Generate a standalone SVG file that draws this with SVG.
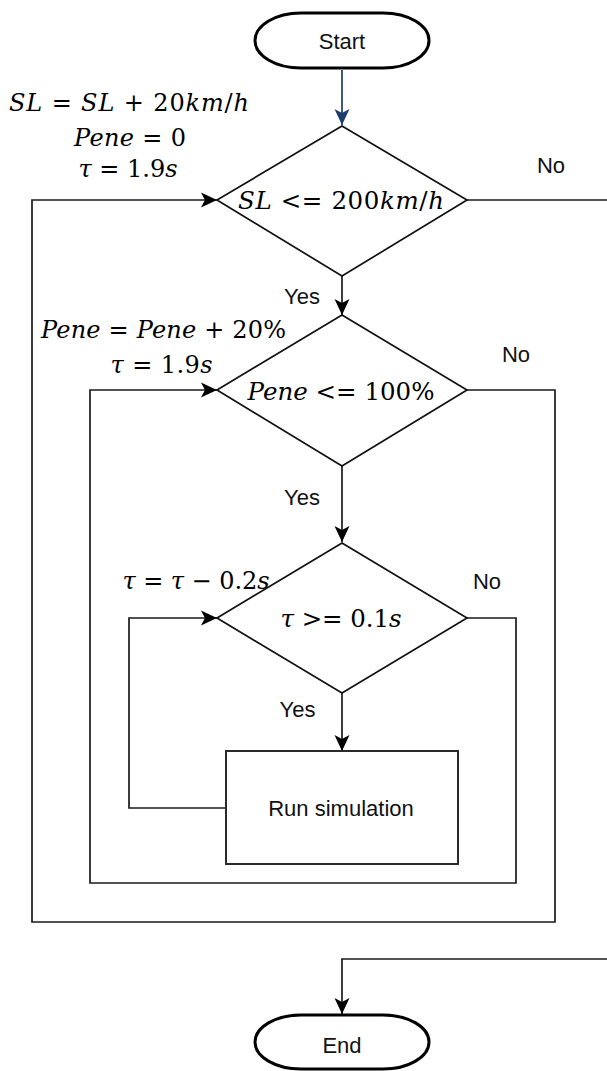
<svg xmlns="http://www.w3.org/2000/svg" width="607" height="1071" viewBox="0 0 607 1071">
<defs>
<style>
.bg{fill:#ffffff}
.term{fill:#ffffff;stroke:#000000;stroke-width:3}
.dia{fill:#ffffff;stroke:#111111;stroke-width:1.7}
.box{fill:#ffffff;stroke:#2b2b2b;stroke-width:2}
.edge{fill:none;stroke:#1a1a1a;stroke-width:1.7}
.blue{fill:none;stroke:#1c3d6e;stroke-width:1.7}
.sans{font-family:"Liberation Sans",Arial,sans-serif;font-size:22px;fill:#111111;text-anchor:middle}
.math{font-family:"DejaVu Serif","Liberation Serif",serif;font-size:24px;fill:#000000;text-anchor:middle}
.mathd{font-family:"DejaVu Serif","Liberation Serif",serif;font-size:24.5px;fill:#000000;text-anchor:middle}
.i{font-style:italic}
</style>
<marker id="ah" markerUnits="userSpaceOnUse" markerWidth="18" markerHeight="16" viewBox="-17 -8 18 16" refX="0" refY="0" orient="auto">
<path d="M0,0 L-16,-7.5 L-12,0 L-16,7.5 Z" fill="#000000"/>
</marker>
<marker id="ahb" markerUnits="userSpaceOnUse" markerWidth="18" markerHeight="16" viewBox="-17 -8 18 16" refX="0" refY="0" orient="auto">
<path d="M0,0 L-16,-7.5 L-12,0 L-16,7.5 Z" fill="#1c3d6e"/>
</marker>
</defs>
<rect class="bg" x="0" y="0" width="607" height="1071"/>

<g id="connectors">
<path class="blue" d="M342,70 V125" marker-end="url(#ahb)"/>
<path class="edge" d="M342,276 V315" marker-end="url(#ah)"/>
<path class="edge" d="M342,466 V542" marker-end="url(#ah)"/>
<path class="edge" d="M342,693 V751" marker-end="url(#ah)"/>
<path class="edge" d="M226,808 H129 V618 H217" marker-end="url(#ah)"/>
<path class="edge" d="M467,618 H516 V883 H90 V390 H217" marker-end="url(#ah)"/>
<path class="edge" d="M467,390 H555 V922 H32 V200 H217" marker-end="url(#ah)"/>
<path class="edge" d="M467,200 H640 V959 H342 V1014" marker-end="url(#ah)"/>
</g>

<g id="start">
<rect class="term" x="255" y="13" width="174" height="55" rx="46" ry="27.5"/>
<text class="sans" x="342" y="49.3">Start</text>
</g>

<g id="cond-sl">
<polygon class="dia" points="342,126 467,200 342,276 217,200"/>
<text class="mathd" x="341" y="208.5" textLength="206" lengthAdjust="spacing"><tspan class="i">SL</tspan> &lt;= 200<tspan class="i">km</tspan>/<tspan class="i">h</tspan></text>
</g>

<g id="init-sl">
<text class="math" x="129" y="110.5" textLength="240" lengthAdjust="spacing"><tspan class="i">SL</tspan> = <tspan class="i">SL</tspan> + 20<tspan class="i">km</tspan>/<tspan class="i">h</tspan></text>
<text class="math" x="130" y="145.7" textLength="112" lengthAdjust="spacing"><tspan class="i">Pene</tspan> = 0</text>
<text class="math" x="128" y="176.7" textLength="99" lengthAdjust="spacing"><tspan class="i">τ</tspan> = 1.9<tspan class="i">s</tspan></text>
</g>

<g id="cond-pene">
<polygon class="dia" points="342,315 467,390 342,466 217,390"/>
<text class="mathd" x="341" y="400" textLength="187" lengthAdjust="spacing"><tspan class="i">Pene</tspan> &lt;= 100%</text>
</g>

<g id="init-pene">
<text class="math" x="163.5" y="338.3" textLength="245" lengthAdjust="spacing"><tspan class="i">Pene</tspan> = <tspan class="i">Pene</tspan> + 20%</text>
<text class="math" x="161.5" y="372.6" textLength="102" lengthAdjust="spacing"><tspan class="i">τ</tspan> = 1.9<tspan class="i">s</tspan></text>
</g>

<g id="cond-tau">
<polygon class="dia" points="342,543 467,618 342,693 217,618"/>
<text class="mathd" x="341" y="626.6" textLength="121" lengthAdjust="spacing"><tspan class="i">τ</tspan> &gt;= 0.1<tspan class="i">s</tspan></text>
</g>

<g id="step-tau">
<text class="math" x="196" y="589" textLength="147" lengthAdjust="spacing"><tspan class="i">τ</tspan> = <tspan class="i">τ</tspan> − 0.2<tspan class="i">s</tspan></text>
</g>

<g id="run">
<rect class="box" x="226" y="751" width="232" height="113"/>
<text class="sans" x="341" y="816">Run simulation</text>
</g>

<g id="end">
<rect class="term" x="255" y="1015" width="174" height="54" rx="46" ry="27"/>
<text class="sans" x="342" y="1053">End</text>
</g>

<g id="labels">
<text class="sans" x="302" y="304">Yes</text>
<text class="sans" x="302" y="505">Yes</text>
<text class="sans" x="297.5" y="717.3">Yes</text>
<text class="sans" x="551" y="172.5">No</text>
<text class="sans" x="516" y="361.7">No</text>
<text class="sans" x="487" y="589">No</text>
</g>
</svg>
